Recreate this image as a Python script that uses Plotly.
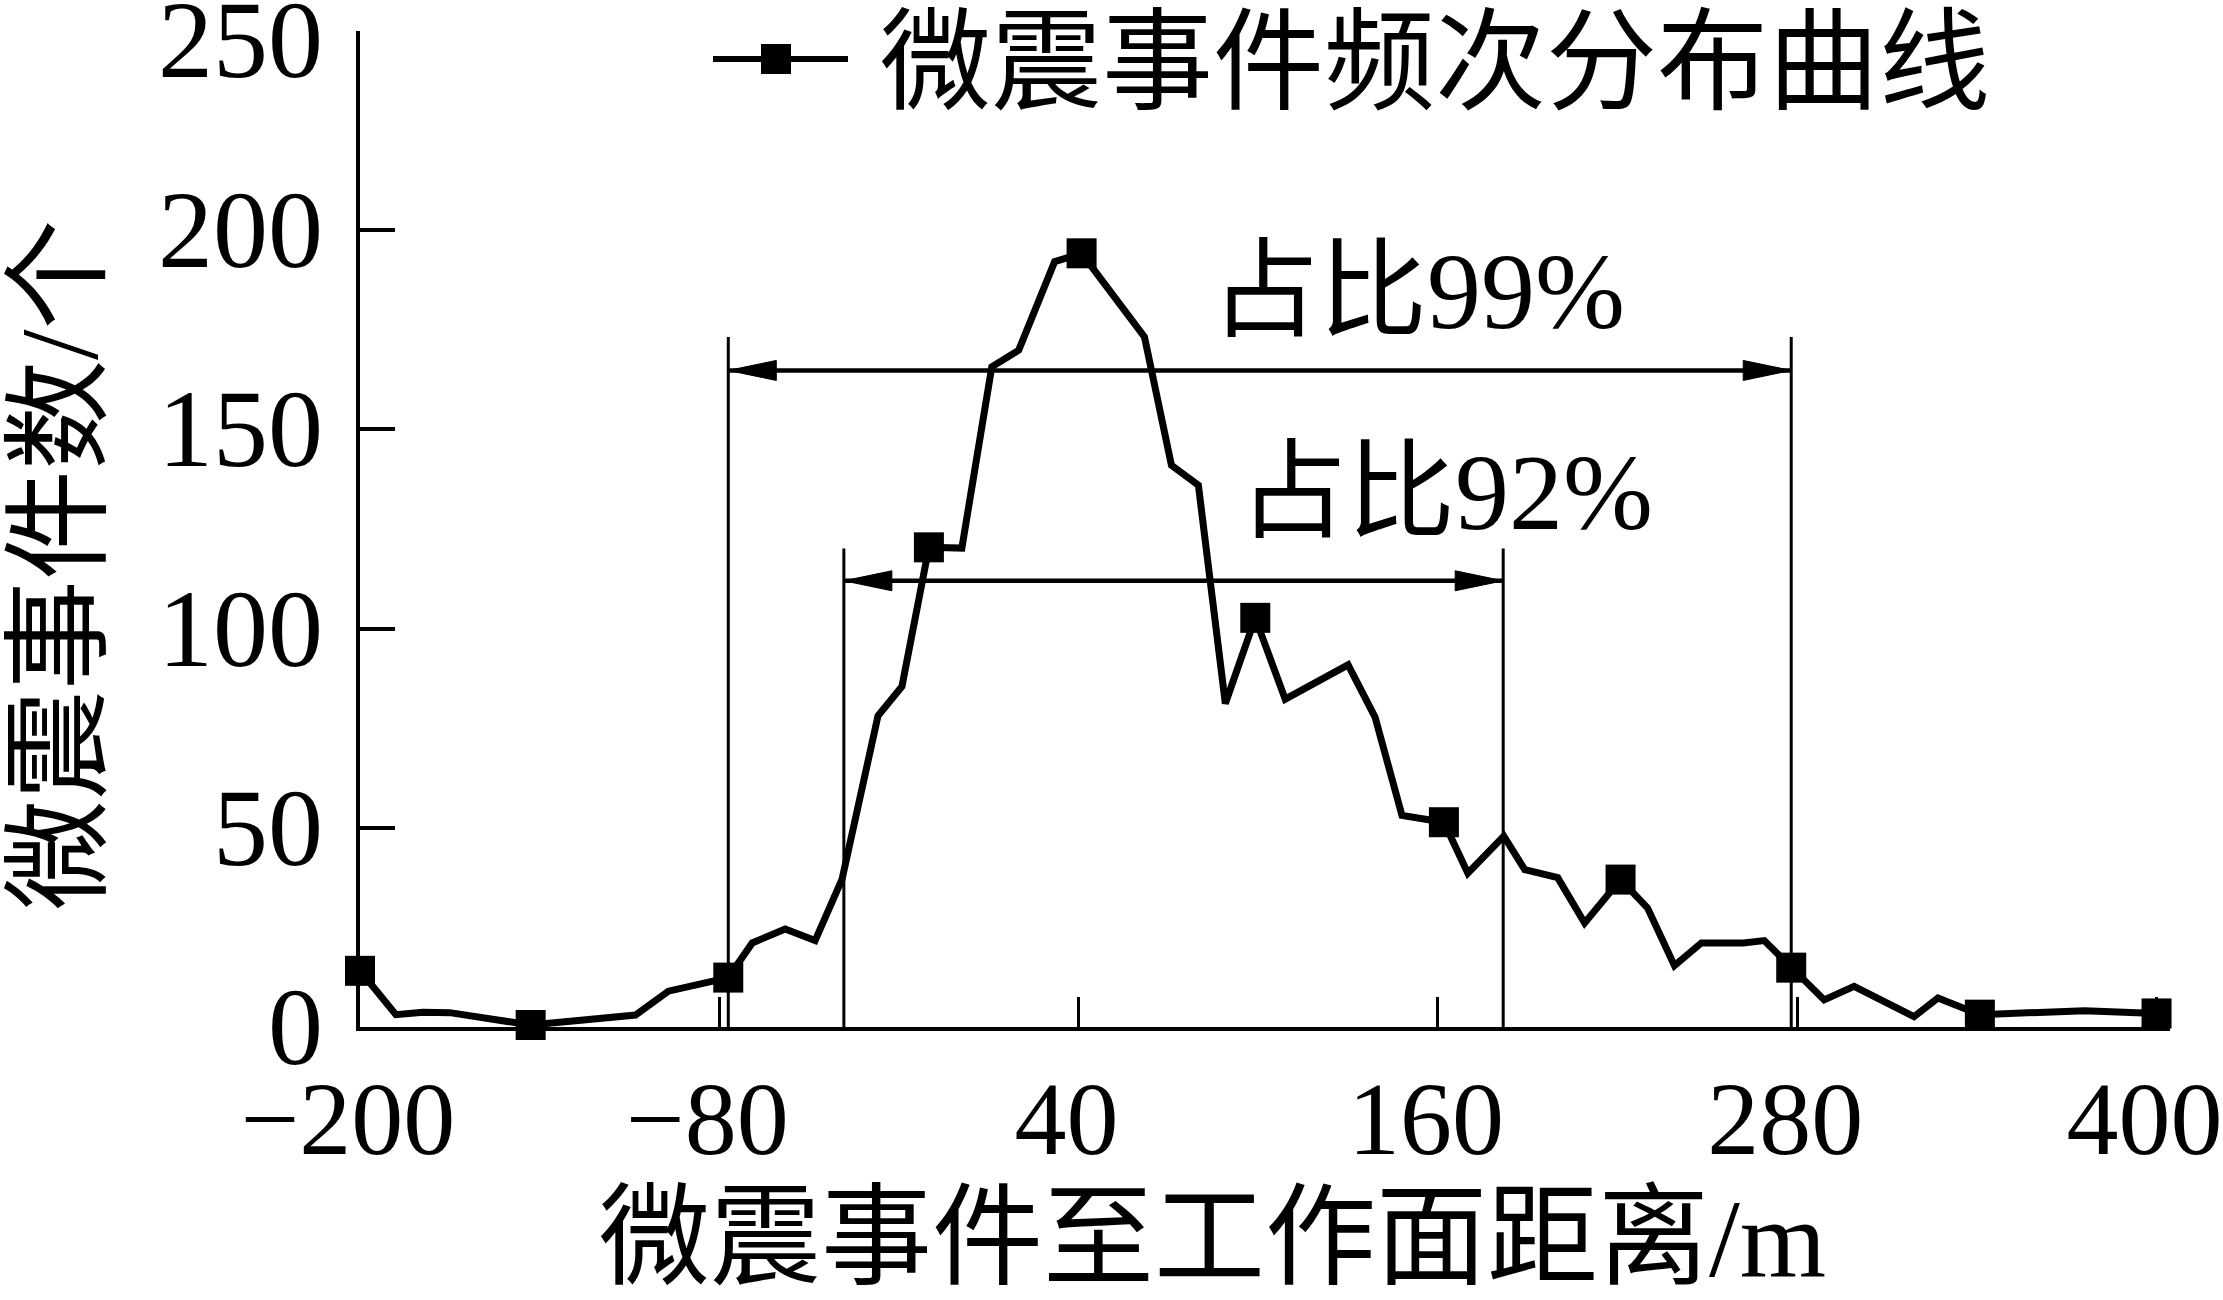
import plotly.graph_objects as go

# ---------------- data ----------------
distance_m = [-200, -188, -179, -170, -143, -108, -97, -77, -69, -58, -48, -39, -27, -19,
              -10, 1, 11, 20, 32, 41, 62, 71, 80, 89, 99, 109, 130, 139, 148, 162, 170,
              182, 189, 200, 209, 221, 230, 239, 248, 262, 269, 278, 289, 299, 319, 327,
              341, 376, 400]
event_count = [14.1, 3.1, 3.7, 3.6, 0.5, 3.0, 9.0, 12.4, 21.1, 24.6, 21.7, 37.1, 78.1, 85.5,
               120.4, 120.2, 165.7, 169.9, 192.1, 194.2, 173.2, 141.0, 136.0, 81.2, 102.7, 82.3,
               90.9, 77.8, 53.1, 51.4, 38.6, 47.9, 39.5, 37.5, 26.1, 37.0, 29.9, 15.4, 21.1,
               21.1, 21.7, 14.9, 6.8, 10.2, 2.6, 7.3, 3.1, 4.1, 3.4]
marked_distance = [-200, -143, -77, -10, 41, 99, 162, 221, 278, 341, 400]

x_ticks = [-200, -80, 40, 160, 280, 400]
y_ticks = [0, 50, 100, 150, 200, 250]

range99 = [-77, 278]      # 占比99%
range92 = [-38.4, 181.8]  # 占比92%
arrow99_y, vline99_top = 164.8, 173.2
arrow92_y, vline92_top = 112.0, 120.1
label99 = "占比99%"
label92 = "占比92%"
label99_pos = (153.4, 184.6)
label92_pos = (162.7, 134.2)

series_name = "微震事件频次分布曲线"
x_title = "微震事件至工作面距离/m"
y_title = "微震事件数/个"

# ---------------- layout constants ----------------
W, H = 2223, 1300
ML, MR, MT, MB = 360, 53, 31, 273
XR = [-200, 404.5]
YR = [0, 250]
PW, PH = W - ML - MR, H - MT - MB
px_per_x = PW / (XR[1] - XR[0])
px_per_y = PH / (YR[1] - YR[0])

FONT = "Liberation Serif, 'Times New Roman', 'Noto Sans CJK SC', serif"


def paper_x(px):
    return (px - ML) / PW


def paper_y(py):
    return (H - MB - py) / PH


marker_sizes = [30 if d in marked_distance else 0 for d in distance_m]

fig = go.Figure()
fig.add_trace(go.Scatter(
    x=distance_m, y=event_count, mode="lines+markers",
    line=dict(color="black", width=7),
    marker=dict(symbol="square", size=marker_sizes, color="black", opacity=1,
                line=dict(width=0, color="black")),
    cliponaxis=False, showlegend=False, name=series_name,
))

shapes = []
line_style = dict(color="black", width=3)
for (xa, xb), top in ((range99, vline99_top), (range92, vline92_top)):
    for xv in (xa, xb):
        shapes.append(dict(type="line", xref="x", yref="y", x0=xv, x1=xv, y0=0, y1=top,
                           line=line_style, layer="below"))

head_len = 48 / px_per_x
head_half = 10 / px_per_y
for (xa, xb), yv in ((range99, arrow99_y), (range92, arrow92_y)):
    shapes.append(dict(type="line", xref="x", yref="y", x0=xa, x1=xb, y0=yv, y1=yv,
                       line=dict(color="black", width=4.5)))
    shapes.append(dict(type="path", xref="x", yref="y",
                       path=f"M{xa},{yv} L{xa + head_len},{yv + head_half} L{xa + head_len},{yv - head_half} Z",
                       fillcolor="black", line=dict(color="black", width=1)))
    shapes.append(dict(type="path", xref="x", yref="y",
                       path=f"M{xb},{yv} L{xb - head_len},{yv + head_half} L{xb - head_len},{yv - head_half} Z",
                       fillcolor="black", line=dict(color="black", width=1)))

# manual legend (line + square marker)
leg_y = paper_y(59)
shapes.append(dict(type="line", xref="paper", yref="paper", x0=paper_x(713), x1=paper_x(848),
                   y0=leg_y, y1=leg_y, line=dict(color="black", width=6)))
shapes.append(dict(type="rect", xref="paper", yref="paper", xsizemode="pixel", ysizemode="pixel",
                   xanchor=paper_x(776), yanchor=leg_y, x0=-15, x1=15, y0=-15, y1=15,
                   fillcolor="black", line=dict(width=0)))

annotations = [
    dict(text=label99, x=label99_pos[0], y=label99_pos[1], xref="x", yref="y", showarrow=False,
         font=dict(size=108, family=FONT, color="black"), xanchor="center", yanchor="middle"),
    dict(text=label92, x=label92_pos[0], y=label92_pos[1], xref="x", yref="y", showarrow=False,
         font=dict(size=108, family=FONT, color="black"), xanchor="center", yanchor="middle"),
    dict(text=series_name, x=paper_x(878), y=paper_y(64), xref="paper", yref="paper",
         showarrow=False, xanchor="left", yanchor="middle",
         font=dict(size=111, family=FONT, color="black")),
    dict(text=x_title, x=paper_x(1212), y=paper_y(1238), xref="paper", yref="paper",
         showarrow=False, xanchor="center", yanchor="middle",
         font=dict(size=111, family=FONT, color="black")),
    dict(text=y_title, x=paper_x(60), y=paper_y(565), xref="paper", yref="paper",
         showarrow=False, xanchor="center", yanchor="middle", textangle=-90,
         font=dict(size=110, family=FONT, color="black")),
]

# y tick labels as text placed at the tick values (top label nudged down to stay in view)
for v in y_ticks:
    annotations.append(dict(text=str(v), x=paper_x(325), y=v, xref="paper", yref="y",
                            showarrow=False, xanchor="right", yanchor="middle",
                            yshift=-9 if v == YR[1] else 0,
                            font=dict(size=110, family=FONT, color="black")))

fig.update_layout(
    width=W, height=H, autosize=False,
    margin=dict(l=ML, r=MR, t=MT, b=MB, autoexpand=False),
    paper_bgcolor="white", plot_bgcolor="white",
    shapes=shapes, annotations=annotations,
    showlegend=False,
    xaxis=dict(range=XR, tickmode="array", tickvals=x_ticks, ticks="inside", ticklen=30,
               tickwidth=3, tickcolor="black", showline=True, linecolor="black", linewidth=4,
               showgrid=False, zeroline=False, ticklabelstandoff=-2, ticklabelshift=-12,
               ticklabeloverflow="allow", automargin=False,
               tickfont=dict(size=104, family=FONT, color="black")),
    yaxis=dict(range=YR, tickmode="array", tickvals=y_ticks, ticks="inside", ticklen=35,
               tickwidth=4, tickcolor="black", showline=True, linecolor="black", linewidth=4,
               showgrid=False, zeroline=False, showticklabels=False, automargin=False),
)

fig.write_html("out.html", config={"displayModeBar": False},
               post_script="document.body.style.margin='0';document.body.style.padding='0';")
